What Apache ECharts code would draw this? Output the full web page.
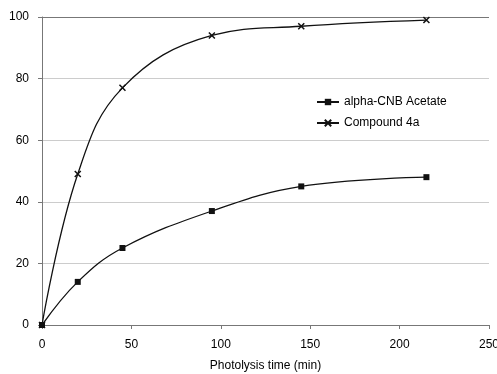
<!DOCTYPE html>
<html>
<head>
<meta charset="utf-8">
<script src="https://cdn.jsdelivr.net/npm/echarts@6/dist/echarts.min.js"></script>
<style>html,body{margin:0;padding:0;background:#fff}#c{width:497px;height:374px}</style>
</head>
<body>
<div id="c"></div>
<script>
const xTimes = [0, 20, 45, 95, 145, 215];
const cnbAcetate = [0, 14, 25, 37, 45, 48];
const compound4a = [0, 49, 77, 94, 97, 99];
const seriesNames = ['alpha-CNB Acetate', 'Compound 4a'];
const xTitle = 'Photolysis time (min)';

const chart = echarts.init(document.getElementById('c'));
const font = 'Liberation Sans, Arial, sans-serif';
const pairs = (ys) => xTimes.map((x, i) => [x, ys[i]]);
chart.setOption({
  animation: false,
  backgroundColor: '#fff',
  textStyle: { fontFamily: font },
  grid: { left: 42, right: 8, top: 17, bottom: 49, containLabel: false, outerBoundsMode: 'none' },
  legend: {
    left: 311, top: 91, orient: 'vertical', itemGap: 9,
    itemWidth: 22, itemHeight: 8,
    textStyle: { fontFamily: font, fontSize: 12, color: '#000' },
    data: seriesNames
  },
  xAxis: {
    type: 'value', min: 0, max: 250, interval: 50,
    name: xTitle, nameLocation: 'middle', nameGap: 35,
    nameTextStyle: { fontFamily: font, fontSize: 12, color: '#000' },
    axisLine: { lineStyle: { color: '#777', width: 1 } },
    axisTick: { show: true, length: 4, lineStyle: { color: '#777' } },
    axisLabel: { fontFamily: font, fontSize: 12, color: '#000', margin: 14 },
    splitLine: { show: false }
  },
  yAxis: {
    type: 'value', min: 0, max: 100, interval: 20,
    axisLine: { show: true, lineStyle: { color: '#777', width: 1 } },
    axisTick: { show: true, length: 4, lineStyle: { color: '#777' } },
    axisLabel: { fontFamily: font, fontSize: 12, color: '#000', margin: 13 },
    splitLine: { show: true, lineStyle: { color: ['#ccc','#ccc','#ccc','#ccc','#ccc','#777'], width: 1 } }
  },
  series: [
    {
      name: seriesNames[0], type: 'line', smooth: 0.4,
      data: pairs(cnbAcetate),
      symbol: 'rect', symbolSize: 6,
      lineStyle: { color: '#111', width: 1.3 },
      itemStyle: { color: '#111' }
    },
    {
      name: seriesNames[1], type: 'line', smooth: 0.4,
      data: pairs(compound4a),
      symbol: 'path://M0,0L10,10M10,0L0,10', symbolSize: 6,
      lineStyle: { color: '#111', width: 1.3 },
      itemStyle: { color: '#111', borderColor: '#111', borderWidth: 1.5 }
    }
  ]
});
</script>
</body>
</html>
